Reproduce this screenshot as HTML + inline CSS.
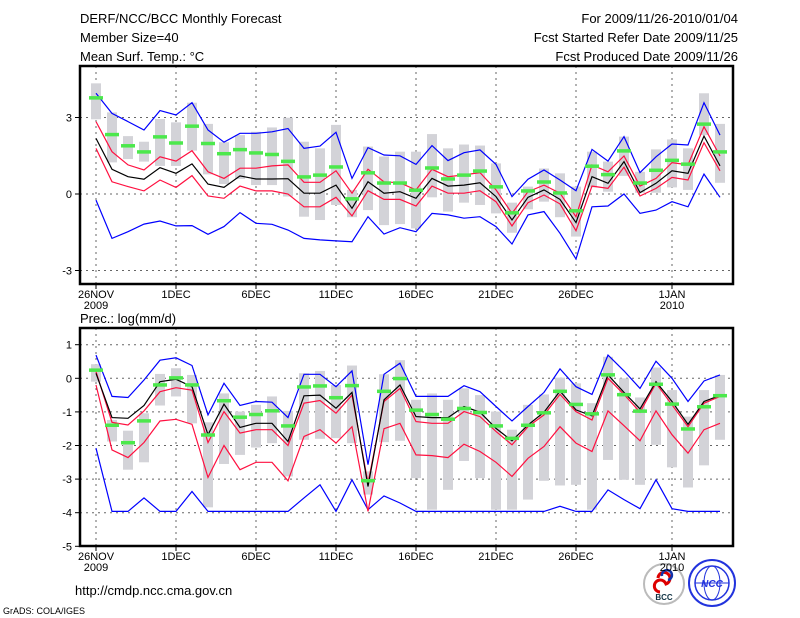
<!DOCTYPE html>
<html><head><meta charset="utf-8"><style>
body{margin:0;background:#fff;}
svg{display:block;font-family:"Liberation Sans",sans-serif;}
</style></head><body>
<svg id="chart" width="800" height="618" viewBox="0 0 800 618">
<g font-size="13" fill="#000">
<text x="80" y="23">DERF/NCC/BCC Monthly Forecast</text>
<text x="80" y="42">Member Size=40</text>
<text x="80" y="61">Mean Surf. Temp.: °C</text>
<text x="738" y="23" text-anchor="end">For 2009/11/26-2010/01/04</text>
<text x="738" y="42" text-anchor="end">Fcst Started Refer Date 2009/11/25</text>
<text x="738" y="61" text-anchor="end">Fcst Produced Date 2009/11/26</text>
</g>
<text x="80" y="323" font-size="13">Prec.: log(mm/d)</text>
<text x="75" y="595" font-size="13">http://cmdp.ncc.cma.gov.cn</text>
<text x="3" y="614" font-size="9">GrADS: COLA/IGES</text>
<g>
<circle cx="664" cy="584" r="20" fill="#fff" stroke="#bbb" stroke-width="2"/>
<path d="M658 578 a6 6 0 1 1 8 6 a6 6 0 1 0 -6 8" fill="none" stroke="#d00" stroke-width="3"/>
<path d="M662 576 a5 5 0 1 1 6 4" fill="none" stroke="#13a" stroke-width="2.5"/>
<text x="664" y="600" font-size="8" text-anchor="middle" font-weight="bold" fill="#134">BCC</text>
</g>
<g>
<circle cx="712" cy="583" r="23" fill="#fff" stroke="#2233dd" stroke-width="2"/>
<ellipse cx="712" cy="583" rx="17" ry="17" fill="none" stroke="#2233dd" stroke-width="1.5"/>
<ellipse cx="712" cy="583" rx="8" ry="17" fill="none" stroke="#2233dd" stroke-width="1"/>
<line x1="695" y1="583" x2="729" y2="583" stroke="#2233dd"/>
<text x="712" y="587" font-size="10" text-anchor="middle" font-style="italic" font-weight="bold" fill="#2233dd">NCC</text>
</g>
<g id="top"></g>
<g id="bot"></g>
</svg>
<script>
const tBlueHi=[3.95,3.16,2.84,2.51,3.27,3.1,3.58,2.51,2.03,2.38,2.38,2.44,2.57,1.79,1.88,2.42,0.61,1.82,1.53,1.5,1.16,1.9,1.31,1.62,1.73,1.16,-0.1,0.58,0.94,0.55,0.13,1.75,1.29,2.25,0.84,1.46,1.96,1.92,3.58,2.31];
const tRedHi=[2.84,1.66,1.14,0.94,1.46,1.29,1.7,0.87,0.61,1.01,1.01,1.1,1.14,0.46,0.46,0.91,0.03,0.97,0.48,0.44,0.16,0.97,0.68,0.75,0.84,0.16,-0.76,0.09,0.35,0.03,-0.89,1.14,0.87,1.49,0.31,0.61,1.23,1.14,2.64,1.49];
const tMean=[2.18,0.97,0.68,0.58,1.03,0.81,1.18,0.39,0.26,0.71,0.59,0.59,0.6,0.03,0.03,0.35,-0.56,0.48,0.03,0.09,-0.17,0.61,0.31,0.35,0.44,-0.1,-1.02,-0.13,0.16,-0.21,-1.12,0.68,0.42,1.27,0.05,0.42,0.91,0.81,2.27,1.1];
const tRedLo=[1.79,0.48,0.29,0.12,0.55,0.26,0.72,-0.08,-0.17,0.31,0.12,0.12,0,-0.5,-0.5,-0.13,-0.86,0.13,-0.21,-0.21,-0.47,0.31,0.03,0.03,0.13,-0.3,-1.25,-0.34,-0.04,-0.39,-1.44,0.31,0.22,1.05,-0.08,0.22,0.65,0.55,2.01,0.91];
const tBlueLo=[-0.24,-1.74,-1.48,-1.18,-1.06,-1.25,-1.24,-1.58,-1.28,-0.73,-1.15,-1.19,-1.41,-1.74,-1.8,-1.84,-1.87,-0.89,-1.57,-1.32,-1.48,-0.76,-0.82,-0.95,-0.89,-1.28,-1.96,-0.82,-0.69,-1.54,-2.55,-0.5,-0.47,0,-0.76,-0.63,-0.3,-0.5,0.78,-0.13];
const tObs=[3.78,2.34,1.9,1.66,2.25,2.01,2.67,1.99,1.59,1.75,1.62,1.56,1.29,0.68,0.75,1.07,-0.18,0.84,0.44,0.44,0.16,1.03,0.6,0.75,0.91,0.29,-0.73,0.13,0.48,0.05,-0.65,1.1,0.77,1.7,0.44,0.94,1.33,1.18,2.75,1.66];
const tBarTop=[4.34,3.2,2.27,2.05,2.94,2.81,3.58,2.75,2.03,2.31,2.44,2.61,2.99,2.05,1.79,2.71,0.16,1.86,1.47,1.66,1.66,2.35,1.79,1.94,1.9,1.2,-0.34,0.29,1.0,0.81,0.29,1.66,1.27,2.25,0.87,1.75,2.14,1.79,3.95,2.75];
const tBarBot=[2.93,1.24,1.37,1.27,1.1,1.1,1.7,0.77,0.39,0.59,0.35,0.35,-0.1,-0.89,-1.02,-0.43,-0.91,-0.63,-1.22,-1.18,-1.35,-0.13,-0.69,-0.34,-0.43,-0.76,-1.52,-0.6,-0.3,-0.91,-1.67,0.26,0.09,0.71,0.05,0.05,0.26,0.16,2.31,0.44];

const pBlueHi=[0.69,-0.54,-0.57,-0.05,0.54,0.61,0.38,-1.09,-0.15,-0.81,-0.69,-0.71,-1.17,0.12,0.12,-0.25,0.22,-2.57,0.12,0.45,-0.54,-0.54,-0.54,-0.22,-0.4,-0.84,-1.27,-0.84,-0.42,0.28,-0.25,-0.48,0.69,0.22,-0.3,0.51,0,-0.69,-0.08,0.1];
const pRedHi=[0.2,-1.31,-1.39,-0.97,-0.4,-0.28,-0.35,-1.91,-0.99,-1.63,-1.53,-1.53,-2.0,-0.74,-0.66,-1.04,-0.5,-3.12,-0.69,-0.3,-1.29,-1.34,-1.34,-0.99,-1.14,-1.58,-1.98,-1.44,-1.09,-0.48,-0.99,-1.24,0,-0.48,-1.01,-0.15,-0.79,-1.44,-0.74,-0.54];
const pMean=[0.15,-1.17,-1.19,-0.81,-0.1,-0.03,-0.25,-1.68,-0.77,-1.46,-1.34,-1.34,-1.88,-0.52,-0.5,-0.89,-0.42,-3.22,-0.64,-0.2,-1.14,-1.17,-1.17,-0.84,-1.01,-1.49,-1.86,-1.39,-1.01,-0.38,-0.94,-1.12,0.1,-0.42,-0.91,-0.1,-0.69,-1.37,-0.69,-0.51];
const pRedLo=[-0.2,-2.13,-2.36,-1.91,-1.27,-1.22,-1.37,-2.95,-2.0,-2.72,-2.5,-2.5,-3.05,-1.73,-1.53,-1.93,-1.44,-3.96,-1.5,-1.34,-2.28,-2.3,-2.36,-1.96,-2.18,-2.5,-2.92,-2.38,-2.03,-1.44,-1.93,-2.18,-0.97,-1.41,-1.86,-0.97,-1.68,-2.23,-1.53,-1.34];
const pBlueLo=[-2.08,-3.96,-3.96,-3.56,-3.96,-3.96,-3.37,-3.96,-3.96,-3.96,-3.96,-3.96,-3.96,-3.56,-3.17,-3.96,-3.02,-3.91,-3.5,-3.71,-3.96,-3.96,-3.96,-3.96,-3.96,-3.96,-3.96,-3.96,-3.96,-3.81,-3.96,-3.96,-3.32,-3.61,-3.88,-3.02,-3.88,-3.96,-3.96,-3.96];
const pObs=[0.25,-1.39,-1.91,-1.26,-0.19,0.02,-0.19,-1.68,-0.66,-1.15,-1.07,-0.96,-1.41,-0.25,-0.22,-0.57,-0.21,-3.04,-0.38,0,-0.94,-1.07,-1.21,-0.89,-1.01,-1.41,-1.78,-1.39,-1.02,-0.38,-0.77,-1.05,0.11,-0.48,-0.97,-0.17,-0.76,-1.5,-0.84,-0.51];
const pBarTop=[0.42,-1.24,-1.56,-1.04,0.13,0.3,0.1,-1.31,-0.45,-0.99,-0.79,-0.54,-0.97,0.15,0.22,-0.2,0.38,-2.77,0.12,0.54,-0.64,-0.45,-0.64,-0.3,-0.5,-0.99,-1.53,-0.79,-0.48,0.02,-0.15,-0.74,0.64,0,-0.57,0.32,-0.35,-1.14,-0.35,0.1];
const pBarBot=[-0.1,-1.88,-2.72,-2.5,-0.81,-0.54,-1.34,-3.84,-2.55,-2.28,-2.06,-1.93,-2.92,-1.83,-1.8,-1.78,-1.93,-3.46,-1.9,-1.86,-2.97,-3.91,-3.32,-2.46,-2.97,-3.91,-3.91,-3.61,-3.05,-3.19,-3.17,-3.91,-2.43,-3.02,-3.17,-1.98,-2.65,-3.25,-2.59,-1.83];

const dayTicks=[0,5,10,15,20,25,30,36];
const dayLabels=["26NOV","1DEC","6DEC","11DEC","16DEC","21DEC","26DEC","1JAN"];
const tTicks=[-3,0,3];
const pTicks=[1,0,-1,-2,-3,-4,-5];

const NS="http://www.w3.org/2000/svg";
const X0=80,X1=733;
const xs=d=>96+16*d;
function mk(p,tag,at){const e=document.createElementNS(NS,tag);for(const k in at)e.setAttribute(k,at[k]);p.appendChild(e);return e;}

function panel(g,top,bot,ys,ticks,hi,rh,mn,rl,lo,obs,bt,bb,name){
  dayTicks.forEach((d,i)=>{
    const l=mk(g,'line',{x1:xs(d),x2:xs(d),y1:top,y2:bot,stroke:'#666','stroke-dasharray':'2,4'});
    
    
    mk(g,'line',{x1:xs(d),x2:xs(d),y1:bot,y2:bot+5,stroke:'#000'});
    const lab=mk(g,'text',{x:xs(d),y:bot+14,'font-size':'11','text-anchor':'middle'});
    lab.textContent=dayLabels[i];
    
    
  });
  [["2009",0],["2010",36]].forEach(a=>{
    const y=mk(g,'text',{x:xs(a[1]),y:bot+25,'font-size':'11','text-anchor':'middle'});
    y.textContent=a[0];
    
    
  });
  ticks.forEach(v=>{
    const y=ys(v);
    if(y>top+2&&y<bot-2){const l=mk(g,'line',{x1:X0,x2:X1,y1:y,y2:y,stroke:'#666','stroke-dasharray':'2,4'});
    
    }
    mk(g,'line',{x1:X0-5,x2:X0,y1:y,y2:y,stroke:'#000'});
    const t=mk(g,'text',{x:X0-8,y:y+4,'font-size':'11','text-anchor':'end'});
    t.textContent=v;
    
    
  });
  bt.forEach((v,i)=>{
    const y1=ys(v),y2=ys(bb[i]);
    const r=mk(g,'rect',{x:xs(i)-5,y:y1,width:10,height:y2-y1,fill:'#d3d3d8'});
    
    
  });
  const line=(arr,col,nm)=>{
    const p=mk(g,'polyline',{points:arr.map((v,i)=>xs(i)+','+ys(v).toFixed(1)).join(' '),fill:'none',stroke:col,'stroke-width':1.2});
    
    
  };
  line(hi,'#0000ff','max-line');
  line(lo,'#0000ff','min-line');
  line(rh,'#ff1040','upper-quantile-line');
  line(rl,'#ff1040','lower-quantile-line');
  line(mn,'#000','ensemble-mean-line');
  obs.forEach((v,i)=>{
    const r=mk(g,'rect',{x:xs(i)-7,y:ys(v)-1.5,width:14,height:3.5,fill:'#4ce84c'});
    
    
  });
  const f=mk(g,'rect',{x:X0,y:top,width:X1-X0,height:bot-top,fill:'none',stroke:'#000','stroke-width':2.5});
  
  
}
const tys=v=>194-v*25.5;
const pys=v=>378.3-v*33.6;
panel(document.getElementById('top'),66,284,tys,tTicks,tBlueHi,tRedHi,tMean,tRedLo,tBlueLo,tObs,tBarTop,tBarBot,'temperature');
panel(document.getElementById('bot'),328,546,pys,pTicks,pBlueHi,pRedHi,pMean,pRedLo,pBlueLo,pObs,pBarTop,pBarBot,'precipitation');
</script>
</body></html>
